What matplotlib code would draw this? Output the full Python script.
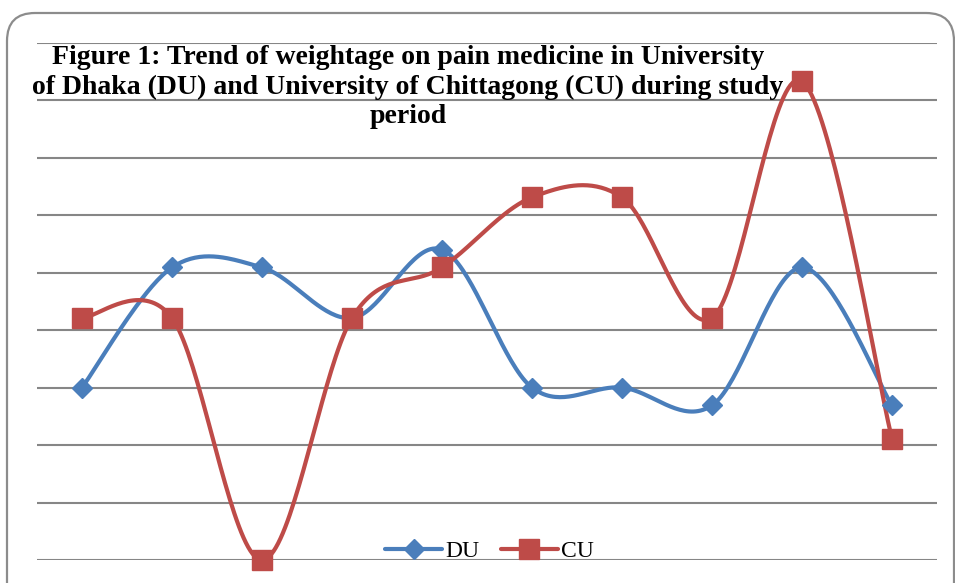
import numpy as np
import matplotlib
matplotlib.use('Agg')
import matplotlib.pyplot as plt
from matplotlib.patches import FancyBboxPatch
from matplotlib.transforms import IdentityTransform

# data (in gridline units)
periods = list(range(10))
du = [3.0, 5.09, 5.09, 4.21, 5.4, 3.0, 3.0, 2.69, 5.09, 2.69]
cu = [4.21, 4.21, 0.0, 4.21, 5.09, 6.31, 6.31, 4.21, 8.33, 2.11]
title = ('Figure 1: Trend of weightage on pain medicine in University\n'
         'of Dhaka (DU) and University of Chittagong (CU) during study\n'
         'period')


def smooth(x, y, n=40):
    # Excel-like smoothed line (Catmull-Rom as cubic bezier)
    x = np.asarray(x, float)
    y = np.asarray(y, float)
    px = np.concatenate([[x[0]], x, [x[-1]]])
    py = np.concatenate([[y[0]], y, [y[-1]]])
    xs, ys = [], []
    t = np.linspace(0, 1, n)
    for i in range(1, len(px) - 2):
        p0 = np.array([px[i], py[i]])
        p3 = np.array([px[i + 1], py[i + 1]])
        c1 = p0 + (np.array([px[i + 1], py[i + 1]]) - np.array([px[i - 1], py[i - 1]])) / 6
        c2 = p3 - (np.array([px[i + 2], py[i + 2]]) - np.array([px[i], py[i]])) / 6
        b = ((1 - t) ** 3)[:, None] * p0 + (3 * (1 - t) ** 2 * t)[:, None] * c1 \
            + (3 * (1 - t) * t ** 2)[:, None] * c2 + (t ** 3)[:, None] * p3
        xs.extend(b[:, 0])
        ys.extend(b[:, 1])
    return xs, ys


W, H = 955, 583
fig = plt.figure(figsize=(W / 100, H / 100), dpi=100)
fig.set_facecolor('white')

# rounded outer border (pixel coordinates)
border = FancyBboxPatch((7, -40), 954 - 7, (H - 13) + 40,
                        boxstyle='round,pad=0,rounding_size=28',
                        transform=IdentityTransform(), facecolor='none',
                        edgecolor='#8c8c8c', linewidth=1.6)
fig.patches.append(border)

ax = fig.add_axes([37 / W, (H - 560) / H, 900 / W, (560 - 42.7) / H])
ax.set_xlim(-0.5, 9.5)
ax.set_ylim(0, 9)
for s in ax.spines.values():
    s.set_visible(False)
ax.set_xticks([])
ax.set_yticks(range(10))
ax.tick_params(left=False, labelleft=False)
ax.yaxis.grid(True, color='#868686', linewidth=1.5)
ax.set_axisbelow(True)

blue = '#4A7EBB'
red = '#BE4B48'

sx, sy = smooth(periods, du)
ax.plot(sx, sy, color=blue, linewidth=3, solid_capstyle='round', clip_on=False)
sx, sy = smooth(periods, cu)
ax.plot(sx, sy, color=red, linewidth=3, solid_capstyle='round', clip_on=False)
ax.plot(periods, du, linestyle='none', marker='D', markersize=10, color=blue, clip_on=False, zorder=3)
ax.plot(periods, cu, linestyle='none', marker='s', markersize=14, color=red, clip_on=False, zorder=3)

# legend
h1, = ax.plot([], [], color=blue, linewidth=3, marker='D', markersize=10, solid_capstyle='round')
h2, = ax.plot([], [], color=red, linewidth=3, marker='s', markersize=14, solid_capstyle='round')
leg = ax.legend([h1, h2], ['DU', 'CU'], loc='center', bbox_to_anchor=(0.503, 0.016),
                ncol=2, frameon=False, handlelength=2.4, handletextpad=0.15,
                columnspacing=0.9, prop={'family': 'Liberation Serif', 'size': 17})

fig.text(408 / W, 1 - 87 / H, title, ha='center', va='center',
         fontsize=20, fontweight='bold', family='Liberation Serif',
         linespacing=1.24)

fig.savefig('out.png', dpi=100)
